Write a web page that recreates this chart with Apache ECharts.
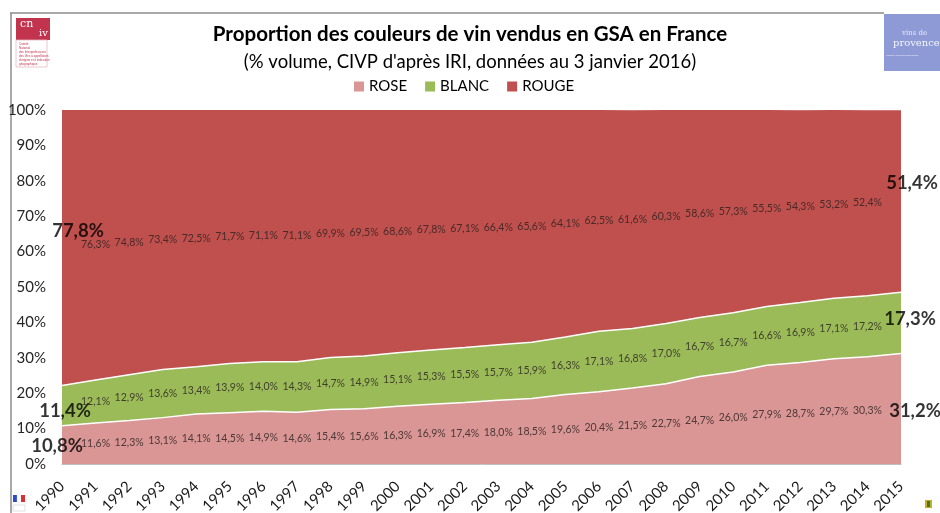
<!DOCTYPE html>
<html>
<head>
<meta charset="utf-8">
<script src="https://cdn.jsdelivr.net/npm/echarts@6/dist/echarts.min.js"></script>
<style>
  html, body { margin: 0; padding: 0; background: #fff; }
  #chart { width: 940px; height: 513px; }
</style>
</head>
<body>
<div id="chart"></div>
<script>
const years = ['1990', '1991', '1992', '1993', '1994', '1995', '1996', '1997', '1998', '1999', '2000', '2001', '2002',
  '2003', '2004', '2005', '2006', '2007', '2008', '2009', '2010', '2011', '2012', '2013', '2014', '2015']
const rose = [10.8, 11.6, 12.3, 13.1, 14.1, 14.5, 14.9, 14.6, 15.4, 15.6, 16.3, 16.9, 17.4,
  18.0, 18.5, 19.6, 20.4, 21.5, 22.7, 24.7, 26.0, 27.9, 28.7, 29.7, 30.3, 31.2]
const blanc = [11.4, 12.1, 12.9, 13.6, 13.4, 13.9, 14.0, 14.3, 14.7, 14.9, 15.1, 15.3, 15.5,
  15.7, 15.9, 16.3, 17.1, 16.8, 17.0, 16.7, 16.7, 16.6, 16.9, 17.1, 17.2, 17.3]
const rouge = [77.8, 76.3, 74.8, 73.4, 72.5, 71.7, 71.1, 71.1, 69.9, 69.5, 68.6, 67.8, 67.1,
  66.4, 65.6, 64.1, 62.5, 61.6, 60.3, 58.6, 57.3, 55.5, 54.3, 53.2, 52.4, 51.4]
const yTicks = [0, 10, 20, 30, 40, 50, 60, 70, 80, 90, 100]

const FONT = 'Lato'
const colors = ['#D99694', '#9BBB59', '#C0504D']
const fmt = v => v.toFixed(1).replace('.', ',') + '%'

// labels sit in the middle of each band
const bandLabels = (name, values, below, firstOffset, lastOffset) => ({
  name: name + '_lbl',
  type: 'scatter',
  symbolSize: 0,
  silent: true,
  z: 5,
  data: values.map((v, i) => {
    const item = { value: [i, below[i] + v / 2], raw: v }
    if (i === 0 || i === values.length - 1) {
      item.label = {
        fontSize: 18.5,
        fontWeight: 'bold',
        color: '#000',
        offset: i === 0 ? firstOffset : lastOffset
      }
    }
    return item
  }),
  label: {
    show: true,
    position: 'inside',
    fontFamily: FONT,
    fontSize: 10.5,
    color: '#2a2020',
    formatter: p => fmt(p.data.raw)
  }
})

const zeros = years.map(() => 0)
const roseBlanc = rose.map((v, i) => v + blanc[i])

const areaSeries = (name, values, idx, lineW) => ({
  name,
  type: 'line',
  stack: 'total',
  data: values,
  symbol: 'none',
  z: 2,
  lineStyle: { width: lineW, color: '#FFFFFF' },
  areaStyle: { color: colors[idx], opacity: 1 },
  itemStyle: { color: colors[idx] }
})

const chart = echarts.init(document.getElementById('chart'))
chart.setOption({
  animation: false,
  textStyle: { fontFamily: FONT },
  title: {
    text: 'Proportion des couleurs de vin vendus en GSA en France',
    subtext: "(% volume, CIVP d'après IRI, données au 3 janvier 2016)",
    left: 'center',
    top: 19,
    itemGap: 8,
    textStyle: { fontFamily: FONT, fontSize: 20.5, fontWeight: 'bold', color: '#000' },
    subtextStyle: { fontFamily: FONT, fontSize: 18.5, color: '#000' }
  },
  legend: {
    data: ['ROSE', 'BLANC', 'ROUGE'],
    top: 74,
    left: 349,
    icon: 'rect',
    itemWidth: 10,
    itemHeight: 10,
    itemGap: 18,
    textStyle: { fontFamily: FONT, fontSize: 15, color: '#000' }
  },
  grid: { left: 62, right: 39, top: 110, bottom: 49, containLabel: false, outerBoundsMode: 'none' },
  xAxis: {
    type: 'category',
    data: years,
    boundaryGap: false,
    axisLine: { lineStyle: { color: '#BFBFBF' } },
    axisTick: { show: false },
    axisLabel: { rotate: 45, margin: 20, fontSize: 15, color: '#1a1a1a', fontFamily: FONT, interval: 0 }
  },
  yAxis: {
    type: 'value',
    min: yTicks[0],
    max: yTicks[yTicks.length - 1],
    interval: 10,
    splitLine: { show: false },
    axisLine: { show: false },
    axisTick: { show: false },
    axisLabel: { formatter: '{value}%', margin: 16, fontSize: 15, color: '#262626', fontFamily: FONT }
  },
  series: [
    areaSeries('ROSE', rose, 0, 1.5),
    areaSeries('BLANC', blanc, 1, 1.5),
    areaSeries('ROUGE', rouge, 2, 0),
    bandLabels('ROSE', rose, zeros, [-5, 1], [14, 2]),
    bandLabels('BLANC', blanc, rose, [3, 5], [9, -4]),
    bandLabels('ROUGE', rouge, roseBlanc, [16, -17], [11, -18])
  ],
  graphic: [
    // slide frame
    { type: 'line', shape: { x1: 10, y1: 13, x2: 884, y2: 13 }, style: { stroke: '#8c8c8c', lineWidth: 1.5 } },
    { type: 'line', shape: { x1: 11, y1: 13, x2: 11, y2: 513 }, style: { stroke: '#8c8c8c', lineWidth: 1.5 } },
    // CNIV logo
    { type: 'rect', shape: { x: 16, y: 18, width: 34, height: 22 }, style: { fill: '#C2334D' } },
    { type: 'rect', shape: { x: 16, y: 40, width: 31, height: 27 }, style: { fill: 'none', stroke: '#E6B8C0', lineWidth: 0.8 } },
    { type: 'text', left: 20, top: 19, style: { text: 'cn', fill: '#fff', font: '11px "DejaVu Serif"' } },
    { type: 'text', left: 39, top: 28, style: { text: 'iv', fill: '#fff', font: '10px "DejaVu Serif"' } },
    { type: 'text', left: 19, top: 42, style: { text: 'Comité\nNational\ndes Interprofessions\ndes Vins à appellation\nd\'origine et à indication\ngéographique', fill: '#C2334D', font: '3px sans-serif', lineHeight: 4 } },
    // Vins de Provence logo
    { type: 'rect', shape: { x: 884, y: 14, width: 56, height: 57 }, style: { fill: '#8E9AD6' } },
    { type: 'text', left: 902, top: 30, style: { text: 'vins de', fill: '#E8EBFA', font: '7px "DejaVu Serif"' } },
    { type: 'text', left: 893, top: 38, style: { text: 'provence', fill: '#F4F5FC', font: '10px "DejaVu Serif"' } },
    { type: 'text', left: 886, top: 54, style: { text: 'CONSEIL INTERPROFESSIONNEL', fill: '#E8EBFA', font: '2px sans-serif' } },
    // bottom logos
    { type: 'rect', shape: { x: 13, y: 495, width: 4, height: 7 }, style: { fill: '#2B4BC8' } },
    { type: 'rect', shape: { x: 17, y: 495, width: 4, height: 7 }, style: { fill: '#ffffff', stroke: '#ddd', lineWidth: 0.3 } },
    { type: 'rect', shape: { x: 21, y: 495, width: 4, height: 7 }, style: { fill: '#D8303A' } },
    { type: 'rect', shape: { x: 13, y: 505, width: 12, height: 6 }, style: { fill: 'none', stroke: '#ccc', lineWidth: 0.6 } },
    { type: 'rect', shape: { x: 925, y: 500, width: 7, height: 8 }, style: { fill: '#C9B020' } },
    { type: 'rect', shape: { x: 927, y: 501, width: 3, height: 6 }, style: { fill: '#3a7a2a' } }
  ]
})
</script>
</body>
</html>
